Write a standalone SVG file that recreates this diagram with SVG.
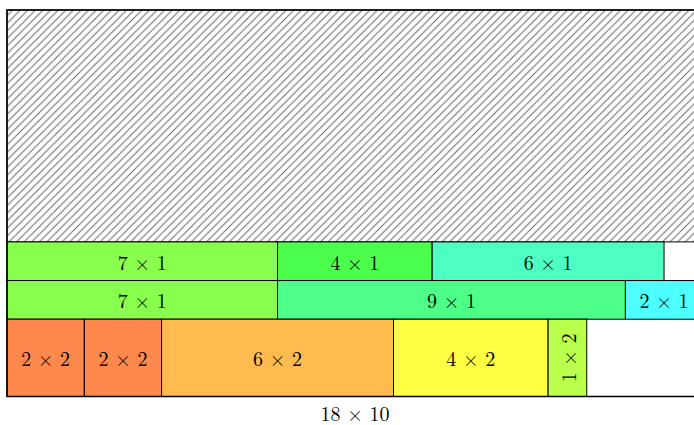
<svg xmlns="http://www.w3.org/2000/svg" width="694" height="425" viewBox="0 0 694 425">
<defs>
<pattern id="hatch" patternUnits="userSpaceOnUse" width="7.6" height="7.6">
<path d="M-1,1 L1,-1 M0,7.6 L7.6,0 M6.6,8.6 L8.6,6.6" stroke="#666" stroke-width="1"/>
</pattern>
</defs>
<style>
.c{stroke:#000;stroke-width:1}
.t{font-family:"Latin Modern Roman","Liberation Serif","DejaVu Serif",serif;font-size:20px;fill:#000;text-anchor:middle;dominant-baseline:central}
</style>
<rect id="hatched" x="7" y="10" width="695.7" height="231.9" fill="url(#hatch)" stroke="#000" stroke-width="1"/>
<g id="r7x1a"><rect class="c" x="7" y="241.9" width="270.55" height="38.65" fill="#88ff4d"/><text class="t" x="142.3" y="261.2">7 × 1</text></g>
<g id="r4x1"><rect class="c" x="277.55" y="241.9" width="154.6" height="38.65" fill="#4dff4d"/><text class="t" x="354.85" y="261.2">4 × 1</text></g>
<g id="r6x1"><rect class="c" x="432.15" y="241.9" width="231.9" height="38.65" fill="#4dffc3"/><text class="t" x="548.1" y="261.2">6 × 1</text></g>
<g id="r7x1b"><rect class="c" x="7" y="280.55" width="270.55" height="38.65" fill="#88ff4d"/><text class="t" x="142.3" y="299.9">7 × 1</text></g>
<g id="r9x1"><rect class="c" x="277.55" y="280.55" width="347.85" height="38.65" fill="#4dff88"/><text class="t" x="451.5" y="299.9">9 × 1</text></g>
<g id="r2x1"><rect class="c" x="625.4" y="280.55" width="77.3" height="38.65" fill="#4dffff"/><text class="t" x="664.05" y="299.9">2 × 1</text></g>
<g id="r2x2a"><rect class="c" x="7" y="319.2" width="77.3" height="77.3" fill="#ff884d"/><text class="t" x="45.65" y="357.85">2 × 2</text></g>
<g id="r2x2b"><rect class="c" x="84.3" y="319.2" width="77.3" height="77.3" fill="#ff884d"/><text class="t" x="122.95" y="357.85">2 × 2</text></g>
<g id="r6x2"><rect class="c" x="161.6" y="319.2" width="231.9" height="77.3" fill="#ffbb4d"/><text class="t" x="277.55" y="357.85">6 × 2</text></g>
<g id="r4x2"><rect class="c" x="393.5" y="319.2" width="154.6" height="77.3" fill="#ffff44"/><text class="t" x="470.8" y="357.85">4 × 2</text></g>
<g id="r1x2"><rect class="c" x="548.1" y="319.2" width="38.65" height="77.3" fill="#bbff4d"/><text class="t" transform="translate(567.4,357.85) rotate(-90)" x="0" y="0">1 × 2</text></g>
<g id="outline"><path d="M702.7,10 H7 V396.5 H702.7" fill="none" stroke="#000" stroke-width="1.5"/></g>
<g id="label"><text class="t" x="355" y="412">18 × 10</text></g>
</svg>
